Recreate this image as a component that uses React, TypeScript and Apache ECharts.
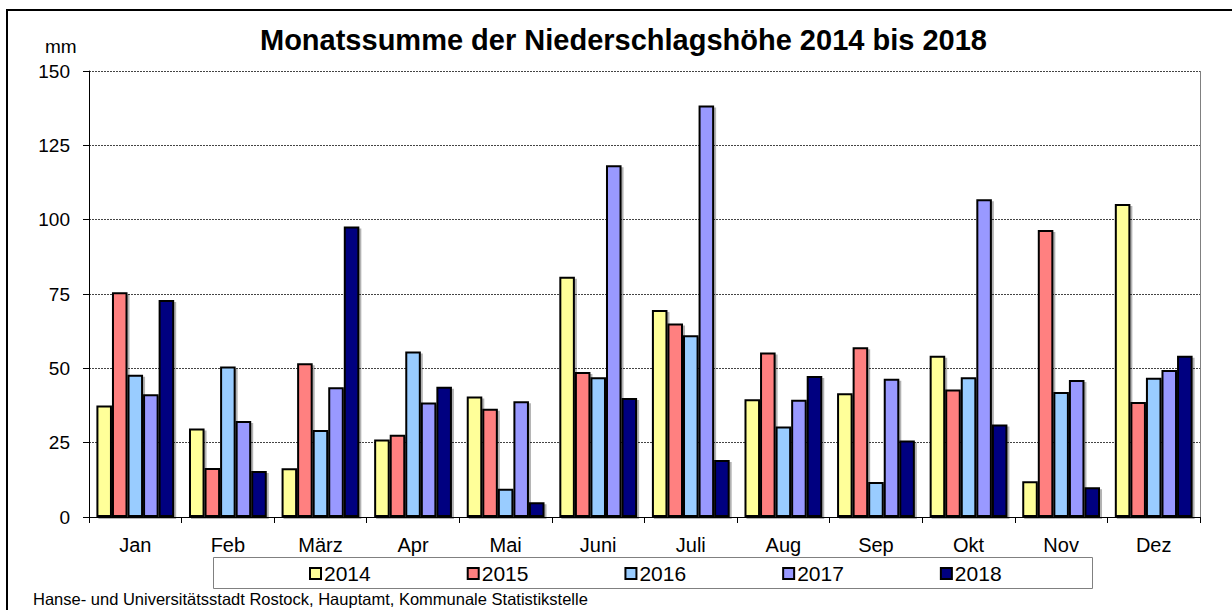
import React, { useEffect, useRef } from "react";
import * as echarts from "echarts";

const months = ["Jan", "Feb", "März", "Apr", "Mai", "Juni", "Juli", "Aug", "Sep", "Okt", "Nov", "Dez"];
const years = ["2014", "2015", "2016", "2017", "2018"];
const v2014 = [37.5, 29.8, 16.4, 26.1, 40.5, 80.8, 69.6, 39.6, 41.6, 54.2, 12.0, 105.3];
const v2015 = [75.6, 16.5, 51.7, 27.7, 36.4, 48.8, 65.1, 55.3, 57.1, 42.9, 96.5, 38.7];
const v2016 = [47.8, 50.6, 29.3, 55.7, 9.5, 47.0, 61.1, 30.4, 11.8, 47.0, 42.0, 46.8];
const v2017 = [41.3, 32.3, 43.6, 38.5, 38.9, 118.3, 138.4, 39.4, 46.5, 106.9, 46.1, 49.4];
const v2018 = [73.0, 15.5, 97.7, 43.8, 5.0, 40.0, 19.2, 47.4, 25.7, 31.1, 10.0, 54.2];
const yTicks = { min: 0, max: 150, interval: 25 };
const colors = ["#FFFF99", "#FF8080", "#99CCFF", "#9999FF", "#000080"];
const titleText = "Monatssumme der Niederschlagshöhe 2014 bis 2018";
const unitText = "mm";
const sourceText = "Hanse- und Universitätsstadt Rostock, Hauptamt, Kommunale Statistikstelle";

const FONT = "'Liberation Sans', Arial, sans-serif";

export default function App() {
  const ref = useRef<HTMLDivElement>(null);
  useEffect(() => {
    if (!ref.current) return;
    const chart = echarts.init(ref.current, null, { renderer: "svg" });
    const all = [v2014, v2015, v2016, v2017, v2018];
    chart.setOption({
      animation: false,
      backgroundColor: "#ffffff",
      textStyle: { fontFamily: FONT, color: "#000" },
      title: {
        text: titleText,
        left: 260,
        top: 25,
        padding: 0,
        textStyle: { fontFamily: FONT, fontSize: 29, fontWeight: "bold", color: "#000" },
      },
      legend: {
        data: years,
        left: 309,
        top: 563,
        itemWidth: 11,
        itemHeight: 11,
        itemGap: 96,
        icon: "rect",
        padding: 0,
        textStyle: { fontFamily: FONT, fontSize: 21, color: "#000", padding: [0, 0, 0, -2] },
      },
      grid: { left: 89, right: 32, top: 71, bottom: 93, containLabel: false },
      xAxis: {
        type: "category",
        data: months,
        axisLine: { lineStyle: { color: "#000", width: 1 } },
        axisTick: { show: true, length: 6, lineStyle: { color: "#000" } },
        axisLabel: { fontFamily: FONT, fontSize: 20, color: "#000", margin: 18 },
        splitLine: { show: false },
      },
      yAxis: {
        type: "value",
        min: yTicks.min,
        max: yTicks.max,
        interval: yTicks.interval,
        axisLine: { show: true, lineStyle: { color: "#000", width: 1 } },
        axisTick: { show: true, length: 6, lineStyle: { color: "#000" } },
        axisLabel: { fontFamily: FONT, fontSize: 19, color: "#000", margin: 19 },
        splitLine: { show: true, lineStyle: { color: "#444", width: 1, type: [2, 1] } },
      },
      series: years.map((y, i) => ({
        name: y,
        type: "bar",
        data: all[i],
        barGap: "0%",
        barCategoryGap: "16%",
        itemStyle: {
          color: colors[i],
          borderColor: "#000",
          borderWidth: 2,
          shadowColor: "rgba(0,0,0,0.3)",
          shadowOffsetX: 2,
          shadowOffsetY: 2,
          shadowBlur: 0,
        },
      })),
      graphic: [
        {
          type: "rect",
          shape: { x: 7, y: 10, width: 1300, height: 700 },
          style: { fill: "none", stroke: "#000", lineWidth: 2 },
          silent: true,
          z: 100,
        },
        {
          type: "line",
          shape: { x1: 1200.5, y1: 71, x2: 1200.5, y2: 517 },
          style: { stroke: "#808080", lineWidth: 1 },
          silent: true,
        },
        {
          type: "rect",
          shape: { x: 213.5, y: 557.5, width: 879, height: 31 },
          style: { fill: "none", stroke: "#808080", lineWidth: 1 },
          silent: true,
        },
        {
          type: "text",
          x: 45,
          y: 37,
          style: { text: unitText, fontFamily: FONT, fontSize: 19, fill: "#000" },
        },
        {
          type: "text",
          x: 33,
          y: 590,
          style: { text: sourceText, fontFamily: FONT, fontSize: 16.5, fill: "#000" },
        },
      ],
    });
    return () => chart.dispose();
  }, []);
  return (
    <div
      ref={ref}
      style={{ position: "fixed", left: 0, top: 0, width: 1232, height: 610 }}
    />
  );
}
